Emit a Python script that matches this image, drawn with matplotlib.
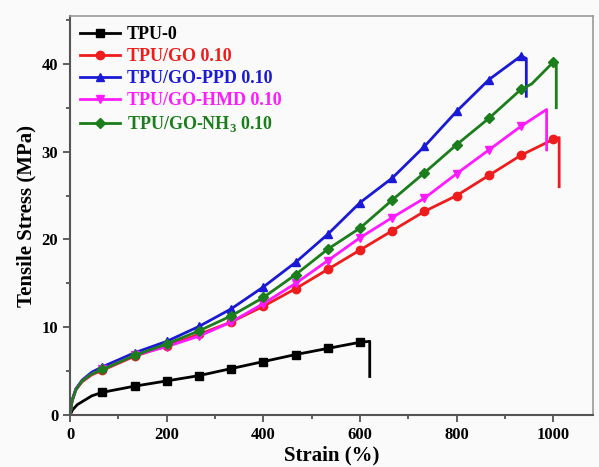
import numpy as np
import matplotlib.pyplot as plt
from matplotlib.ticker import MultipleLocator

plt.rcParams['font.family'] = ['Liberation Serif', 'DejaVu Serif']
plt.rcParams['font.weight'] = 'bold'
plt.rcParams['mathtext.fontset'] = 'custom'
plt.rcParams['mathtext.rm'] = 'Liberation Serif:bold'

# strain where the symbols sit
marks = [66.7, 133.3, 200, 266.7, 333.3, 400, 466.7, 533.3, 600,
         666.7, 733.3, 800, 866.7, 933.3, 1000]

strain_tpu = [0, 5, 15, 30, 45, 66.7, 133.3, 200, 266.7, 333.3, 400,
              466.7, 533.3, 600, 620, 620]
stress_tpu = [0, 0.6, 1.2, 1.7, 2.2, 2.6, 3.3, 3.9, 4.5, 5.3, 6.1,
              6.9, 7.6, 8.3, 8.4, 4.4]

strain_go = [0, 4, 12, 25, 45, 66.7, 133.3, 200, 266.7, 333.3, 400,
             466.7, 533.3, 600, 666.7, 733.3, 800, 866.7, 933.3, 1000,
             1012, 1012]
stress_go = [0, 1.6, 2.9, 3.8, 4.6, 5.1, 6.7, 7.9, 9.2, 10.6, 12.4,
             14.4, 16.6, 18.8, 21.0, 23.2, 25.0, 27.3, 29.6, 31.4,
             31.6, 26.0]

strain_ppd = [0, 4, 12, 25, 45, 66.7, 133.3, 200, 266.7, 333.3, 400,
              466.7, 533.3, 600, 666.7, 733.3, 800, 866.7, 933.3, 944, 944]
stress_ppd = [0, 1.7, 3.0, 4.0, 4.9, 5.5, 7.1, 8.4, 10.1, 12.1, 14.6,
              17.4, 20.6, 24.2, 27.0, 30.6, 34.6, 38.2, 40.9, 40.6, 36.3]

strain_hmd = [0, 4, 12, 25, 45, 66.7, 133.3, 200, 266.7, 333.3, 400,
              466.7, 533.3, 600, 666.7, 733.3, 800, 866.7, 933.3, 986, 986]
stress_hmd = [0, 1.6, 2.9, 3.9, 4.7, 5.2, 6.8, 7.8, 9.0, 10.6, 12.7,
              15.0, 17.6, 20.2, 22.5, 24.7, 27.5, 30.2, 32.9, 34.8, 30.2]

strain_nh3 = [0, 4, 12, 25, 45, 66.7, 133.3, 200, 266.7, 333.3, 400,
              466.7, 533.3, 600, 666.7, 733.3, 800, 866.7, 933.3, 955,
              1000, 1006, 1006]
stress_nh3 = [0, 1.6, 2.9, 3.9, 4.7, 5.2, 6.8, 8.1, 9.6, 11.3, 13.4,
              16.0, 18.9, 21.3, 24.5, 27.6, 30.8, 33.8, 37.1, 37.7,
              40.2, 40.2, 35.0]

series = [
    ('TPU-0', strain_tpu, stress_tpu, 'black', 's'),
    ('TPU/GO 0.10', strain_go, stress_go, '#ee1c1c', 'o'),
    ('TPU/GO-PPD 0.10', strain_ppd, stress_ppd, '#1a1ad6', '^'),
    ('TPU/GO-HMD 0.10', strain_hmd, stress_hmd, '#ff1aff', 'v'),
    ('TPU/GO-NH$_3$ 0.10', strain_nh3, stress_nh3, '#1b7d1b', 'D'),
]

fig = plt.figure(figsize=(5.99, 4.67), dpi=100, facecolor='#fafafa')
ax = fig.add_axes([0.117, 0.111, 0.873, 0.854])
ax.set_facecolor('#fafafa')

for label, x, y, c, m in series:
    idx = [i for i, s in enumerate(x) if s in marks]
    ms = 5 if m == 'D' else 6
    ax.plot(x, y, color=c, lw=2, marker=m, ms=ms, markevery=idx, label=label)

ax.set_xlim(0, 1082)
ax.set_ylim(0, 45.4)
ax.xaxis.set_major_locator(MultipleLocator(200))
ax.xaxis.set_minor_locator(MultipleLocator(100))
ax.yaxis.set_major_locator(MultipleLocator(10))
ax.yaxis.set_minor_locator(MultipleLocator(5))
ax.tick_params(which='both', direction='out', width=1.2, colors='#444444',
               labelcolor='black', labelsize=12)
ax.tick_params(which='major', length=5)
ax.tick_params(which='minor', length=3)
for side in ['left', 'bottom']:
    ax.spines[side].set_color('#555555')
    ax.spines[side].set_linewidth(1.5)
for side in ['top', 'right']:
    ax.spines[side].set_color('#999999')
    ax.spines[side].set_linewidth(1.2)

ax.set_xlabel('Strain (%)', fontsize=15, fontweight='bold', labelpad=2)
ax.set_ylabel('Tensile Stress (MPa)', fontsize=15, fontweight='bold', labelpad=4)

leg = ax.legend(loc='upper left', frameon=False, handlelength=2.2,
                handletextpad=0.4, labelspacing=0.28, borderaxespad=0.15,
                prop={'weight': 'bold', 'size': 13})
for text, (_, _, _, c, _) in zip(leg.get_texts(), series):
    text.set_color(c)

fig.savefig('out.png', dpi=100, facecolor=fig.get_facecolor())
